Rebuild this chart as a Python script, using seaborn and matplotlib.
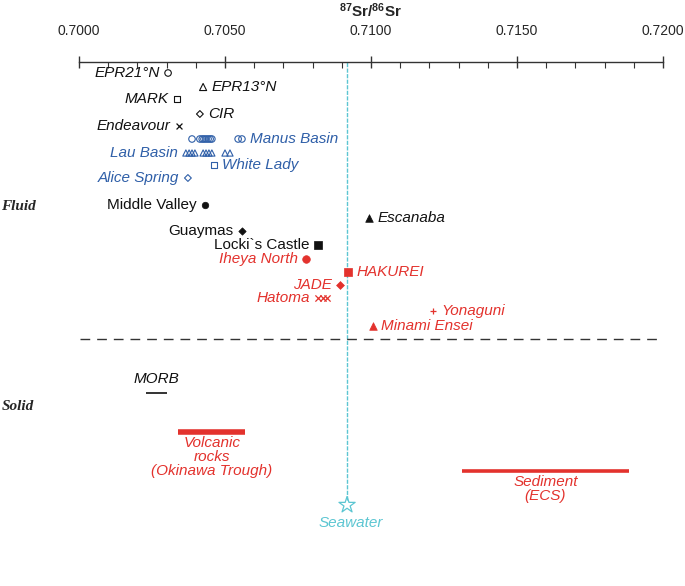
import numpy as np
import pandas as pd
import matplotlib.pyplot as plt
import seaborn as sns
from matplotlib.ticker import MultipleLocator, FormatStrFormatter

sns.set_style("white")
plt.rcParams['font.family'] = ['Liberation Sans', 'DejaVu Sans']
plt.rcParams['mathtext.fontset'] = 'custom'
plt.rcParams['mathtext.rm'] = 'Liberation Sans'
plt.rcParams['mathtext.bf'] = 'Liberation Sans:bold'

BLACK = "#111111"
BLUE = "#2f5fa8"
RED = "#e3322d"
CYAN = "#5cc6d2"

# fluid sites, 87Sr/86Sr
site_names = ["EPR21°N", "EPR13°N", "MARK", "CIR", "Endeavour", "Manus Basin", "Lau Basin",
              "White Lady", "Alice Spring", "Middle Valley", "Escanaba", "Guaymas",
              "Locki`s Castle", "Iheya North", "HAKUREI", "JADE", "Hatoma", "Yonaguni",
              "Minami Ensei"]
site_sr = [
    [0.70305],
    [0.70425],
    [0.70336],
    [0.70414],
    [0.70342],
    [0.70387, 0.70414, 0.70422, 0.70428, 0.70435, 0.70442, 0.70449, 0.70455, 0.70545, 0.70558],
    [0.70366, 0.70377, 0.70387, 0.70397, 0.70425, 0.70435, 0.70445, 0.70455, 0.70500, 0.70517],
    [0.70462],
    [0.70373],
    [0.70432],
    [0.70993],
    [0.70558],
    [0.70818],
    [0.70777],
    [0.70921],
    [0.70894],
    [0.70820, 0.70836, 0.70848],
    [0.71212],
    [0.71007],
]
site_group = ["mor", "mor", "mor", "mor", "mor", "back", "back", "back", "back", "mor", "mor",
              "mor", "mor", "okinawa", "okinawa", "okinawa", "okinawa", "okinawa", "okinawa"]

# solid end-members (ranges)
solid_names = ["MORB", "Volcanic\nrocks\n(Okinawa Trough)", "Sediment\n(ECS)"]
solid_lo = [0.7023, 0.7034, 0.7131]
solid_hi = [0.7030, 0.7057, 0.71885]
seawater_sr = 0.70918

# layout / style
site_row = [73, 87, 99, 114, 126, 139, 153, 165, 178, 205, 218, 231, 245, 259, 272, 285, 298, 311, 326]
site_marker = ["o", "^", "s", "D", "x", "o", "^", "s", "D", "o", "^", "D", "s", "o", "s", "D", "x", "+", "^"]
site_open = [True, True, True, True, False, True, True, True, True, False, False, False, False,
             False, False, False, False, False, False]
site_side = ["L", "R", "L", "R", "L", "R", "L", "R", "L", "L", "R", "L", "L", "L", "R", "L", "L", "R", "R"]
site_italic = [True] * 9 + [False, True, False, False] + [True] * 6
site_size = [22, 26, 22, 12, 18, 22, 20, 22, 12, 22, 30, 14, 40, 30, 40, 16, 20, 20, 30]
group_color = {"mor": BLACK, "back": BLUE, "okinawa": RED}
solid_row = [393, 432, 471]
solid_color = [BLACK, RED, RED]
solid_lw = [1.2, 4.0, 2.6]

fig = plt.figure(figsize=(6.85, 5.86), dpi=100)
ax = fig.add_axes([79 / 685, 0, (663 - 79) / 685, 1 - 62 / 586])
ax.set_xlim(0.700, 0.720)
ax.set_ylim(586, 62)

for name, vals, grp, row, mk, op, side, it, sz in zip(site_names, site_sr, site_group, site_row,
                                                     site_marker, site_open, site_side,
                                                     site_italic, site_size):
    col = group_color[grp]
    df = pd.DataFrame({"sr": vals, "row": [row] * len(vals)})
    if mk in ("x", "+"):
        sns.scatterplot(data=df, x="sr", y="row", marker=mk, color=col, edgecolor=col,
                        linewidth=0.9, s=sz, ax=ax, zorder=3)
    elif op:
        sns.scatterplot(data=df, x="sr", y="row", marker=mk, color=col, facecolor="none",
                        edgecolor=col, linewidth=0.8, s=sz, ax=ax, zorder=3)
    else:
        sns.scatterplot(data=df, x="sr", y="row", marker=mk, color=col, edgecolor=col,
                        linewidth=0.5, s=sz, ax=ax, zorder=3)
    if side == "L":
        ax.annotate(name, (min(vals), row), xytext=(-6, 0), textcoords="offset points",
                    ha="right", va="center", color=col, fontsize=11,
                    fontstyle="italic" if it else "normal")
    else:
        ax.annotate(name, (max(vals), row), xytext=(6, 0), textcoords="offset points",
                    ha="left", va="center", color=col, fontsize=11,
                    fontstyle="italic" if it else "normal")

# fluid / solid separator
ax.axhline(339, xmin=0.002, xmax=0.995, color="#333333", lw=1.0, ls=(0, (7, 5)))

# solid ranges
for name, lo, hi, row, col, lw in zip(solid_names, solid_lo, solid_hi, solid_row, solid_color, solid_lw):
    ax.plot([lo, hi], [row, row], color=col, lw=lw, solid_capstyle="butt")
    if name == "MORB":
        ax.text((lo + hi) / 2, row - 7, name, ha="center", va="bottom", color=col,
                fontsize=11, fontstyle="italic")
    else:
        ax.text((lo + hi) / 2, row + 4, name, ha="center", va="top", color=col,
                fontsize=11, fontstyle="italic", linespacing=1.0)

# seawater
ax.axvline(seawater_sr, ymin=(586 - 500) / (586 - 62), ymax=1, color=CYAN, lw=1.0,
           ls=(0, (3, 1)), zorder=1)
ax.scatter([seawater_sr], [505], marker="*", s=150, facecolor="none", edgecolor=CYAN,
           linewidth=0.9, zorder=3)
ax.text(seawater_sr + 0.00012, 523, "Seawater", ha="center", va="center", color=CYAN,
        fontsize=11, fontstyle="italic")

fig.text(18 / 685, 1 - 207 / 586, "Fluid", ha="center", va="center", fontsize=11,
         fontweight="bold", fontstyle="italic", family=["Liberation Serif", "DejaVu Serif"])
fig.text(18 / 685, 1 - 406 / 586, "Solid", ha="center", va="center", fontsize=11,
         fontweight="bold", fontstyle="italic", family=["Liberation Serif", "DejaVu Serif"])

# top axis
for s in ["left", "right", "bottom"]:
    ax.spines[s].set_visible(False)
ax.spines["top"].set_color("#333333")
ax.spines["top"].set_linewidth(1.0)
ax.set_yticks([])
ax.set_ylabel("")
ax.xaxis.tick_top()
ax.xaxis.set_label_position("top")
ax.xaxis.set_major_locator(MultipleLocator(0.005))
ax.xaxis.set_minor_locator(MultipleLocator(0.001))
ax.xaxis.set_major_formatter(FormatStrFormatter("%.4f"))
ax.tick_params(axis="x", which="major", direction="inout", length=9, width=1.0,
               color="#333333", pad=13, labelsize=10, top=True, bottom=False)
ax.tick_params(axis="x", which="minor", direction="in", length=4, width=0.8,
               color="#333333", top=True, bottom=False)
ax.set_xlabel(r"$\mathbf{^{87}Sr/^{86}Sr}$", fontsize=11, labelpad=5)

fig.savefig("out.png", dpi=100)
